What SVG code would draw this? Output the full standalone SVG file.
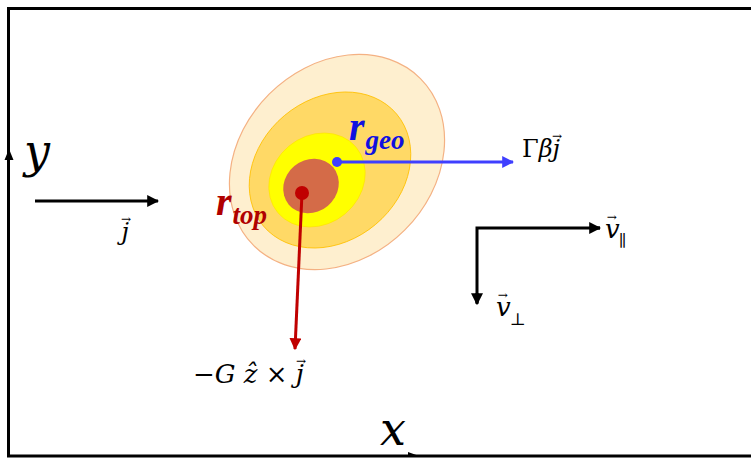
<svg xmlns="http://www.w3.org/2000/svg" width="751" height="458" viewBox="0 0 751 458">
<defs>
<marker id="ahK" viewBox="0 0 10 10" refX="9" refY="5" markerWidth="4" markerHeight="4" markerUnits="strokeWidth" orient="auto"><path d="M0,0 L10,5 L0,10 z" fill="#000"/></marker>
<marker id="ahB" viewBox="0 0 10 10" refX="9" refY="5" markerWidth="4" markerHeight="4" markerUnits="strokeWidth" orient="auto"><path d="M0,0 L10,5 L0,10 z" fill="#3F3FFF"/></marker>
<marker id="ahR" viewBox="0 0 10 10" refX="9" refY="5" markerWidth="4" markerHeight="4" markerUnits="strokeWidth" orient="auto"><path d="M0,0 L10,5 L0,10 z" fill="#C00000"/></marker>
</defs>
<style>
.m{font-family:"DejaVu Serif","Liberation Serif",serif;font-style:italic;fill:#000}
.u{font-family:"DejaVu Serif","Liberation Serif",serif;font-style:normal;fill:#000}
.b{font-family:"Liberation Serif","DejaVu Serif",serif;font-style:italic;font-weight:bold}
.frame{stroke:#000;stroke-width:3;fill:none}
.k{stroke:#000;stroke-width:3;fill:none;marker-end:url(#ahK)}
</style>
<rect width="751" height="458" fill="#fff"/>
<g id="frame">
<path class="frame" d="M751,8.5 H8.5 V456 H751"/>
<path d="M9,149 L4.5,160 L13.5,160 z" fill="#000"/>
<path d="M408,452 L419,456 L408,456 z" fill="#000"/>
</g>
<g id="blob">
<ellipse cx="337" cy="162" rx="118" ry="96" transform="rotate(-45 337 162)" fill="#FEEFCF" stroke="#F4B183" stroke-width="1.2"/>
<ellipse cx="330" cy="170" rx="87" ry="71" transform="rotate(-40 330 170)" fill="#FFD966" stroke="#FFC000" stroke-width="0.8"/>
<ellipse cx="317" cy="180" rx="51" ry="44" transform="rotate(-40 317 180)" fill="#FFFF00" stroke="#FFE000" stroke-width="0.6"/>
<ellipse cx="311" cy="186" rx="29" ry="26" transform="rotate(-40 311 186)" fill="#D46B48"/>
</g>
<g id="connectors">
<line class="k" x1="35" y1="201" x2="158" y2="201"/>
<line x1="337" y1="162" x2="513" y2="162" stroke="#3F3FFF" stroke-width="3" marker-end="url(#ahB)"/>
<line x1="302" y1="193" x2="295" y2="349" stroke="#C00000" stroke-width="3" marker-end="url(#ahR)"/>
<path d="M600,228 H477 V303" fill="none" stroke="#000" stroke-width="3"/>
<line class="k" x1="590" y1="228" x2="600" y2="228"/>
<line class="k" x1="477" y1="293" x2="477" y2="304"/>
</g>
<g id="rgeo">
<circle cx="337" cy="162" r="5" fill="#3F3FFF"/>
<text class="b" x="349" y="140" font-size="40" fill="#1010E0">r<tspan font-size="27" dx="1" dy="9">geo</tspan></text>
</g>
<g id="rtop">
<circle cx="302" cy="193" r="7" fill="#C00000"/>
<text class="b" x="216" y="215" font-size="40" fill="#B00000">r<tspan font-size="27" dx="1" dy="9">top</tspan></text>
</g>
<g id="labels">
<text class="m" x="24" y="167" font-size="46">y</text>
<text class="m" x="380" y="445" font-size="46">x</text>
<text class="m" x="121" y="240" font-size="24">j<tspan class="u" font-size="12" dx="-8" dy="-17">→</tspan></text>
<text x="522" y="157" font-size="24"><tspan class="u">Γ</tspan><tspan class="m">βj</tspan><tspan class="u" font-size="12" dx="-8" dy="-17">→</tspan></text>
<text x="605" y="238" font-size="26"><tspan class="m">v</tspan><tspan class="u" font-size="12" dx="-13" dy="-17">→</tspan><tspan class="u" font-size="16" dx="2" dy="25">∥</tspan></text>
<text x="496" y="316" font-size="26"><tspan class="m">v</tspan><tspan class="u" font-size="12" dx="-13" dy="-17">→</tspan><tspan class="u" font-size="17" dx="2" dy="26">⊥</tspan></text>
<text x="193" y="383" font-size="26"><tspan class="u">−</tspan><tspan class="m">G ẑ </tspan><tspan class="u">× </tspan><tspan class="m">j</tspan><tspan class="u" font-size="12" dx="-8" dy="-18">→</tspan></text>
</g>
</svg>
